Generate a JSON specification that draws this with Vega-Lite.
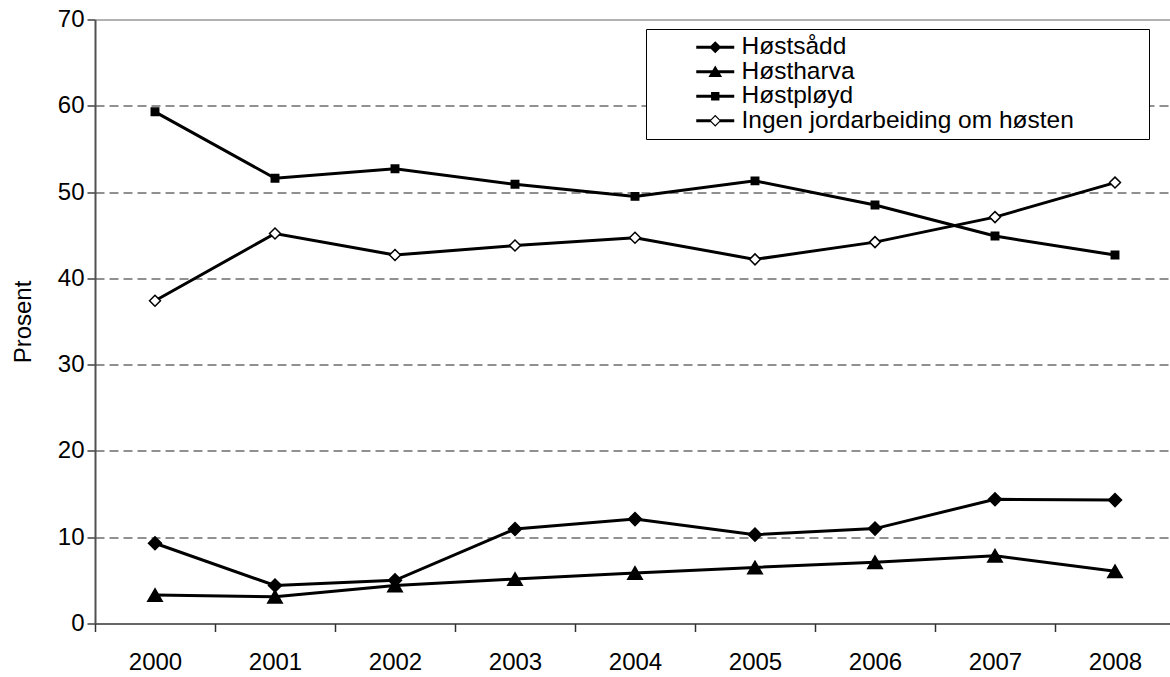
{
  "$schema": "https://vega.github.io/schema/vega-lite/v6.json",
  "autosize": "none",
  "width": 1075,
  "height": 604,
  "padding": {"left": 95, "top": 19.5, "right": 0, "bottom": 53.5},
  "background": "white",
  "config": {
    "font": "Liberation Sans",
    "view": {"stroke": null},
    "axis": {"labelFont": "Liberation Sans", "titleFont": "Liberation Sans", "labelColor": "black", "titleColor": "black"},
    "legend": {"labelFont": "Liberation Sans"}
  },
  "data": {
    "values": [
      {"year": "2000", "series": "Høstsådd", "value": 9.3},
      {"year": "2001", "series": "Høstsådd", "value": 4.4},
      {"year": "2002", "series": "Høstsådd", "value": 5.0},
      {"year": "2003", "series": "Høstsådd", "value": 10.95},
      {"year": "2004", "series": "Høstsådd", "value": 12.1},
      {"year": "2005", "series": "Høstsådd", "value": 10.3},
      {"year": "2006", "series": "Høstsådd", "value": 11.0},
      {"year": "2007", "series": "Høstsådd", "value": 14.4},
      {"year": "2008", "series": "Høstsådd", "value": 14.3},
      {"year": "2000", "series": "Høstharva", "value": 3.3},
      {"year": "2001", "series": "Høstharva", "value": 3.1},
      {"year": "2002", "series": "Høstharva", "value": 4.4},
      {"year": "2003", "series": "Høstharva", "value": 5.15},
      {"year": "2004", "series": "Høstharva", "value": 5.85},
      {"year": "2005", "series": "Høstharva", "value": 6.5},
      {"year": "2006", "series": "Høstharva", "value": 7.1},
      {"year": "2007", "series": "Høstharva", "value": 7.85},
      {"year": "2008", "series": "Høstharva", "value": 6.05},
      {"year": "2000", "series": "Høstpløyd", "value": 59.3},
      {"year": "2001", "series": "Høstpløyd", "value": 51.6},
      {"year": "2002", "series": "Høstpløyd", "value": 52.7},
      {"year": "2003", "series": "Høstpløyd", "value": 50.9},
      {"year": "2004", "series": "Høstpløyd", "value": 49.5},
      {"year": "2005", "series": "Høstpløyd", "value": 51.3},
      {"year": "2006", "series": "Høstpløyd", "value": 48.5},
      {"year": "2007", "series": "Høstpløyd", "value": 44.9},
      {"year": "2008", "series": "Høstpløyd", "value": 42.7},
      {"year": "2000", "series": "Ingen jordarbeiding om høsten", "value": 37.4},
      {"year": "2001", "series": "Ingen jordarbeiding om høsten", "value": 45.2},
      {"year": "2002", "series": "Ingen jordarbeiding om høsten", "value": 42.7},
      {"year": "2003", "series": "Ingen jordarbeiding om høsten", "value": 43.8},
      {"year": "2004", "series": "Ingen jordarbeiding om høsten", "value": 44.7},
      {"year": "2005", "series": "Ingen jordarbeiding om høsten", "value": 42.2},
      {"year": "2006", "series": "Ingen jordarbeiding om høsten", "value": 44.2},
      {"year": "2007", "series": "Ingen jordarbeiding om høsten", "value": 47.1},
      {"year": "2008", "series": "Ingen jordarbeiding om høsten", "value": 51.1}
    ]
  },
  "encoding": {
    "x": {
      "field": "year", "type": "ordinal", "title": null,
      "scale": {"type": "band", "paddingInner": 0, "paddingOuter": 0, "range": [0, 1080]},
      "axis": {
        "labelAngle": 0, "labelFontSize": 24, "labelPadding": 19,
        "tickBand": "extent", "tickSize": 8, "tickColor": "#333333", "tickWidth": 1.5,
        "domainColor": "#333333", "domainWidth": 1.5, "grid": false
      }
    },
    "y": {
      "field": "value", "type": "quantitative", "title": "Prosent",
      "scale": {"domain": [0, 70], "nice": false, "zero": true},
      "axis": {
        "values": [0, 10, 20, 30, 40, 50, 60, 70],
        "labelFontSize": 24, "labelPadding": 3,
        "titleFontSize": 24, "titleFontWeight": "normal", "titlePadding": 22,
        "tickSize": 8, "tickColor": "#404040", "tickWidth": 1.5,
        "domainColor": "#505050", "domainWidth": 2,
        "grid": true,
        "gridColor": {"condition": {"test": "datum.value === 70", "value": "#999999"}, "value": "#222222"},
        "gridDash": {"condition": {"test": "datum.value === 70", "value": []}, "value": [9, 5]},
        "gridWidth": {"condition": {"test": "datum.value === 70", "value": 1.5}, "value": 1},
        "gridOpacity": {"condition": {"test": "datum.value === 0", "value": 0}, "value": 1}
      }
    }
  },
  "resolve": {"scale": {"shape": "independent"}, "legend": {"shape": "independent"}},
  "layer": [
    {
      "mark": {"type": "line", "color": "black", "strokeWidth": 3},
      "encoding": {"detail": {"field": "series"}}
    },
    {
      "mark": {"type": "point", "filled": true, "stroke": "black", "strokeWidth": 1.5, "opacity": 1},
      "encoding": {
        "shape": {
          "field": "series", "type": "nominal",
          "scale": {
            "domain": ["Høstsådd", "Høstharva", "Høstpløyd", "Ingen jordarbeiding om høsten"],
            "range": ["diamond", "triangle-up", "square", "diamond"]
          },
          "legend": null
        },
        "fill": {
          "condition": {"test": "datum.series === 'Ingen jordarbeiding om høsten'", "value": "white"},
          "value": "black"
        },
        "size": {
          "condition": [
            {"test": "datum.series === 'Høstsådd'", "value": 170},
            {"test": "datum.series === 'Høstharva'", "value": 210},
            {"test": "datum.series === 'Høstpløyd'", "value": 55}
          ],
          "value": 120
        }
      }
    },
    {
      "mark": {"type": "point", "filled": true, "color": "black", "opacity": 0, "strokeWidth": 0},
      "encoding": {
        "shape": {
          "field": "series", "type": "nominal",
          "scale": {
            "domain": ["Høstsådd", "Høstharva", "Høstpløyd", "Ingen jordarbeiding om høsten"],
            "range": [
              "M-2,-0.15H2V0.15H-2ZM0,-0.64L0.64,0L0,0.64L-0.64,0ZM45,0L45,0",
              "M-2,-0.15H2V0.15H-2ZM0,-0.66L0.72,0.56L-0.72,0.56ZM45,0L45,0",
              "M-2,-0.15H2V0.15H-2ZM-0.44,-0.44H0.44V0.44H-0.44ZM45,0L45,0",
              "M-2,-0.15H-0.5V0.15H-2ZM0.5,-0.15H2V0.15H0.5ZM0,-0.62L0.62,0L0,0.62L-0.62,0ZM0,-0.45L-0.45,0L0,0.45L0.45,0ZM45,0L45,0"
            ]
          },
          "legend": {
            "orient": "none", "legendX": 551, "legendY": 9.5, "title": null,
            "padding": 6, "strokeColor": "black", "fillColor": "white",
            "labelFontSize": 24.5, "labelColor": "black", "labelOffset": 14, "labelLimit": 0,
            "symbolSize": 361, "symbolOffset": 51, "symbolStrokeWidth": 0,
            "symbolFillColor": "black", "symbolOpacity": 1, "rowPadding": -0.5
          }
        }
      }
    }
  ]
}
